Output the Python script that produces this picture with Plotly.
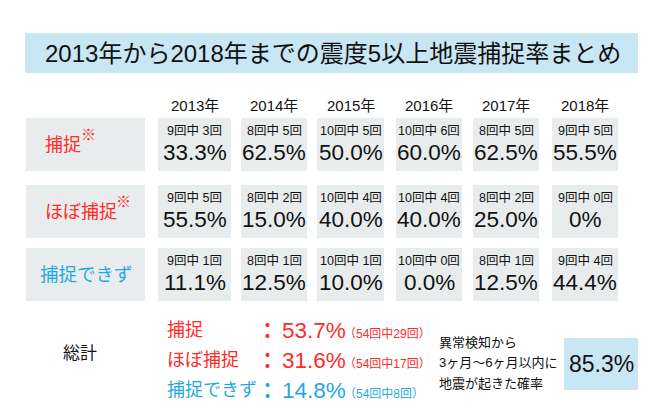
import plotly.graph_objects as go

# ---------------- data ----------------
title_text = "2013年から2018年までの震度5以上地震捕捉率まとめ"
years = ["2013年", "2014年", "2015年", "2016年", "2017年", "2018年"]
totals = [9, 8, 10, 10, 8, 9]

row_labels = ["捕捉", "ほぼ捕捉", "捕捉できず"]
row_marks = ["※", "※", ""]

capture_counts = [3, 5, 5, 6, 5, 5]
capture_pct = ["33.3%", "62.5%", "50.0%", "60.0%", "62.5%", "55.5%"]
near_counts = [5, 2, 4, 4, 2, 0]
near_pct = ["55.5%", "15.0%", "40.0%", "40.0%", "25.0%", "0%"]
miss_counts = [1, 1, 1, 0, 1, 4]
miss_pct = ["11.1%", "12.5%", "10.0%", "0.0%", "12.5%", "44.4%"]

summary_title = "総計"
summary_labels = ["捕捉", "ほぼ捕捉", "捕捉できず"]
summary_pct = ["53.7%", "31.6%", "14.8%"]
summary_counts = ["（54回中29回）", "（54回中17回）", "（54回中8回）"]
note_lines = ["異常検知から", "3ヶ月〜6ヶ月以内に", "地震が起きた確率"]
overall_pct = "85.3%"

# ---------------- style / layout constants ----------------
RED = "#ff2a2a"
BLUE = "#1fa9e1"
GRAY_BOX = "#e9ecec"
TITLE_BOX = "#c8e6f3"
FONT = "Liberation Sans, Noto Sans CJK JP, sans-serif"
row_colors = [RED, RED, BLUE]

col_left = [158, 241, 317, 396, 473, 552]
col_right = [231, 307, 384, 462, 539, 618]
row_top = [118, 185, 248]
row_h = 53
label_left = [43, 43, 38]
label_size = [18, 18, 18.5]
mark_x = [88, 123, 0]
PAGE_OFFSET = 8  # default page margin around the plot div

counts = [capture_counts, near_counts, miss_counts]
pcts = [capture_pct, near_pct, miss_pct]

shapes = []
ann = []


def text(x, y, s, size, color="#111", xanchor="center", yanchor="middle"):
    ann.append(dict(x=x, y=y, text=s, showarrow=False, xref="x", yref="y",
                    xanchor=xanchor, yanchor=yanchor,
                    font=dict(family=FONT, size=size, color=color)))


def box(x0, y0, x1, y1, color):
    shapes.append(dict(type="rect", xref="x", yref="y", x0=x0, y0=y0, x1=x1, y1=y1,
                       fillcolor=color, line=dict(width=0), layer="below"))


# title
box(25, 33, 638, 73, TITLE_BOX)
text(333, 53, title_text, 24)

# year headers
for i, y in enumerate(years):
    text((col_left[i] + col_right[i]) / 2, 105, y, 15)

# rows
for r in range(3):
    top = row_top[r]
    box(26, top, 145, top + row_h, GRAY_BOX)
    text(label_left[r], top + row_h / 2, row_labels[r], label_size[r], row_colors[r], xanchor="left")
    if row_marks[r]:
        text(mark_x[r], top + 16, "<b>" + row_marks[r] + "</b>", 15, row_colors[r])
    for i in range(len(years)):
        cx = (col_left[i] + col_right[i]) / 2
        box(col_left[i], top, col_right[i], top + row_h, GRAY_BOX)
        text(cx, top + 12, f"{totals[i]}回中 {counts[r][i]}回", 12.5)
        text(cx, top + 34, pcts[r][i], 22.5)

# summary
text(80, 353, summary_title, 17)
sum_y = [330, 360, 390]
for k in range(3):
    c = row_colors[k]
    text(165, sum_y[k], summary_labels[k], 18, c, xanchor="left")
    text(267, sum_y[k], "<b>：</b>", 21, c)
    text(280, sum_y[k], summary_pct[k], 22.5, c, xanchor="left")
    text(342, sum_y[k] + 3, summary_counts[k], 12, c, xanchor="left")

for j, line in enumerate(note_lines):
    text(437, 342 + j * 20.5, line, 13, xanchor="left")

box(564, 338, 638, 390, TITLE_BOX)
text(601, 364, overall_pct, 23)

fig = go.Figure()
fig.update_layout(
    width=670, height=420,
    margin=dict(l=0, r=0, t=0, b=0),
    paper_bgcolor="white", plot_bgcolor="white",
    xaxis=dict(range=[PAGE_OFFSET, 670 + PAGE_OFFSET], visible=False, fixedrange=True),
    yaxis=dict(range=[420 + PAGE_OFFSET, PAGE_OFFSET], visible=False, fixedrange=True),
    shapes=shapes, annotations=ann, showlegend=False,
)
fig.write_html("out.html")
